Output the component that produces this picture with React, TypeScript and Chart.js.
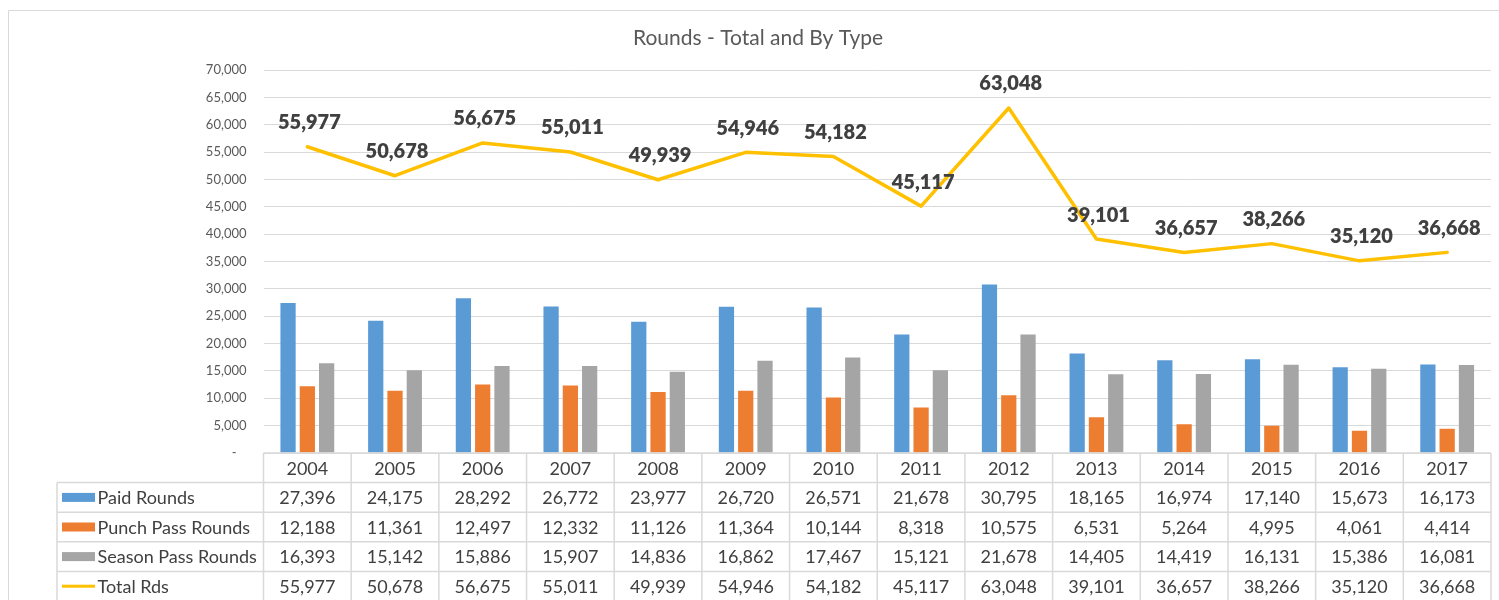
import React, { useEffect, useRef } from 'react';
import { Chart, registerables } from 'chart.js';

Chart.register(...registerables);

const years = ['2004', '2005', '2006', '2007', '2008', '2009', '2010', '2011', '2012', '2013', '2014', '2015', '2016', '2017'];
const paidRounds = [27396, 24175, 28292, 26772, 23977, 26720, 26571, 21678, 30795, 18165, 16974, 17140, 15673, 16173];
const punchPassRounds = [12188, 11361, 12497, 12332, 11126, 11364, 10144, 8318, 10575, 6531, 5264, 4995, 4061, 4414];
const seasonPassRounds = [16393, 15142, 15886, 15907, 14836, 16862, 17467, 15121, 21678, 14405, 14419, 16131, 15386, 16081];
const totalRds = [55977, 50678, 56675, 55011, 49939, 54946, 54182, 45117, 63048, 39101, 36657, 38266, 35120, 36668];
const seriesNames = ['Paid Rounds', 'Punch Pass Rounds', 'Season Pass Rounds', 'Total Rds'];
const seriesColors = ['#5B9BD5', '#ED7D31', '#A5A5A5', '#FFC000'];
const yMin = 0;
const yMax = 70000;
const yStep = 5000;
const chartTitle = 'Rounds - Total and By Type';

const fmt = (v: number) => v.toLocaleString('en-US');

const tablePlugin = {
  id: 'excelTable',
  afterDatasetsDraw(chart: any) {
    const ctx = chart.ctx;
    const meta = chart.getDatasetMeta(3);
    ctx.save();
    ctx.font = '800 20px Lato';
    ctx.fillStyle = '#404040';
    ctx.textAlign = 'center';
    ctx.textBaseline = 'middle';
    meta.data.forEach((pt: any, i: number) => {
      ctx.fillText(fmt(totalRds[i]), pt.x + 2, pt.y - 24);
    });
    ctx.restore();
  },
  afterDraw(chart: any) {
    const ctx = chart.ctx;
    const area = chart.chartArea;
    const xs = chart.scales.x;
    const n = years.length;
    const colW = (area.right - area.left) / n;
    const top = area.bottom;
    const rowH = 29.6;
    const tableLeft = 57;
    const allValues = [paidRounds, punchPassRounds, seasonPassRounds, totalRds];

    ctx.save();
    // outer border
    ctx.strokeStyle = '#d9d9d9';
    ctx.lineWidth = 1;
    ctx.beginPath();
    ctx.moveTo(8.5, 600);
    ctx.lineTo(8.5, 10.5);
    ctx.lineTo(1499, 10.5);
    ctx.stroke();

    // title
    ctx.font = '21px Lato';
    ctx.fillStyle = '#595959';
    ctx.textAlign = 'center';
    ctx.textBaseline = 'middle';
    ctx.fillText(chartTitle, 758, 38);

    // table lines
    ctx.strokeStyle = '#d9d9d9';
    ctx.lineWidth = 1.5;
    ctx.beginPath();
    ctx.moveTo(area.left, top);
    ctx.lineTo(area.right, top);
    for (let r = 1; r <= 4; r++) {
      const y = top + r * rowH;
      ctx.moveTo(tableLeft, y);
      ctx.lineTo(area.right, y);
    }
    for (let c = 0; c <= n; c++) {
      const x = area.left + c * colW;
      ctx.moveTo(x, top);
      ctx.lineTo(x, 600);
    }
    ctx.moveTo(tableLeft, top + rowH);
    ctx.lineTo(tableLeft, 600);
    ctx.stroke();

    // header years
    ctx.font = '18px Lato';
    ctx.fillStyle = '#404040';
    ctx.textAlign = 'center';
    ctx.textBaseline = 'middle';
    years.forEach((yr, i) => {
      ctx.fillText(yr, xs.getPixelForValue(i), top + rowH / 2 + 1);
    });

    // rows
    allValues.forEach((vals, r) => {
      const cy = top + rowH * (r + 1) + rowH / 2 + 1;
      vals.forEach((v, i) => {
        ctx.fillText(fmt(v), xs.getPixelForValue(i), cy);
      });
    });

    // legend keys
    ctx.textAlign = 'left';
    seriesNames.forEach((name, r) => {
      const cy = top + rowH * (r + 1) + rowH / 2;
      ctx.fillStyle = seriesColors[r];
      if (r < 3) {
        ctx.fillRect(62, cy - 4.5, 33, 9);
      } else {
        ctx.fillRect(62, cy - 1.5, 33, 3);
      }
      ctx.fillStyle = '#404040';
      ctx.fillText(name, 97.5, cy + 1);
    });
    ctx.restore();
  },
};

export default function App() {
  const ref = useRef<HTMLCanvasElement>(null);
  useEffect(() => {
    const chart = new Chart(ref.current as HTMLCanvasElement, {
      type: 'bar',
      data: {
        labels: years,
        datasets: [
          { type: 'bar', label: seriesNames[0], data: paidRounds, backgroundColor: seriesColors[0], order: 1 },
          { type: 'bar', label: seriesNames[1], data: punchPassRounds, backgroundColor: seriesColors[1], order: 1 },
          { type: 'bar', label: seriesNames[2], data: seasonPassRounds, backgroundColor: seriesColors[2], order: 1 },
          {
            type: 'line',
            label: seriesNames[3],
            data: totalRds,
            borderColor: seriesColors[3],
            backgroundColor: seriesColors[3],
            borderWidth: 3.5,
            pointRadius: 0,
            tension: 0,
            borderJoinStyle: 'round',
            borderCapStyle: 'round',
            order: 0,
          },
        ] as any,
      },
      options: {
        responsive: false,
        animation: false,
        layout: { padding: { top: 70, right: 8, bottom: 147, left: 0 } },
        datasets: { bar: { categoryPercentage: 0.66, barPercentage: 0.79 } } as any,
        plugins: {
          legend: { display: false },
          title: { display: false },
          tooltip: { enabled: false },
        },
        scales: {
          x: { display: false, offset: true },
          y: {
            min: yMin,
            max: yMax,
            afterFit: (scale: any) => {
              scale.width = 263.5;
            },
            ticks: {
              stepSize: yStep,
              padding: 17,
              color: '#595959',
              font: { family: 'Lato', size: 13 },
              callback: (v: any) => (Number(v) === 0 ? '-   ' : fmt(Number(v))),
            },
            grid: { color: '#d9d9d9', lineWidth: 1, drawTicks: false },
            border: { display: false },
          },
        },
      },
      plugins: [tablePlugin],
    });
    return () => chart.destroy();
  }, []);
  return (
    <div style={{ position: 'absolute', left: 0, top: 0, width: 1499, height: 600, background: '#fff' }}>
      <canvas ref={ref} width={1499} height={600} style={{ display: 'block' }} />
    </div>
  );
}
